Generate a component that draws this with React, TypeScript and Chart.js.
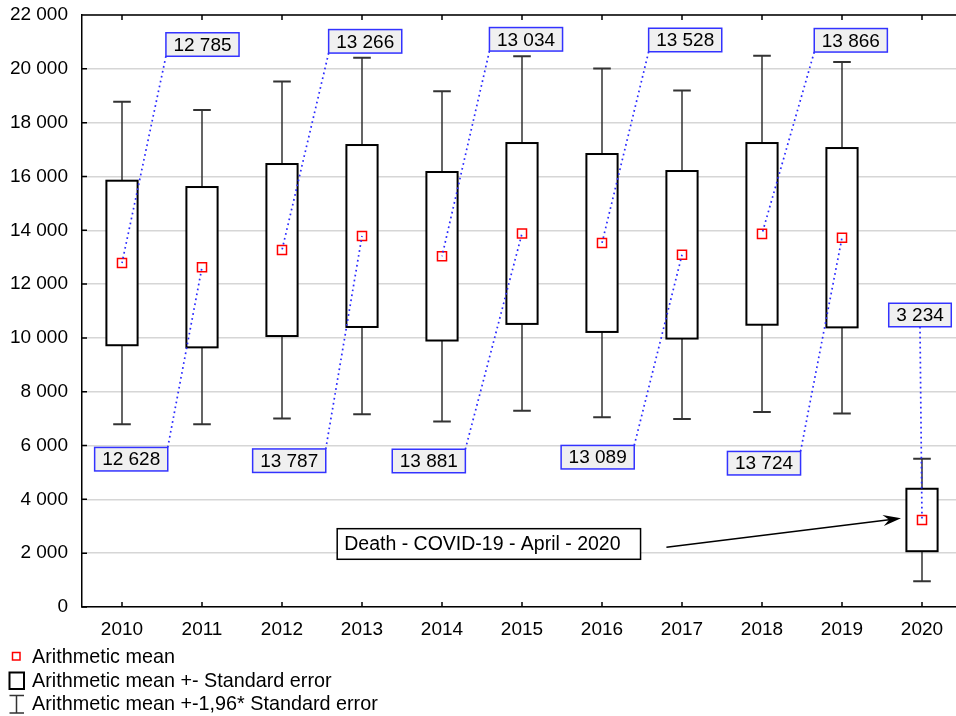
import React, { useEffect, useRef } from 'react';
import { Chart, registerables } from 'chart.js';

Chart.register(...registerables);

// ---------- data ----------
const years = [2010, 2011, 2012, 2013, 2014, 2015, 2016, 2017, 2018, 2019, 2020];
const means = [12785, 12628, 13266, 13787, 13034, 13881, 13528, 13089, 13866, 13724, 3234];
const stdErrors = [3057, 2979, 3196, 3381, 3131, 3361, 3306, 3113, 3376, 3332, 1160];
const whiskerFactor = 1.96;
const yTickValues = [0, 2000, 4000, 6000, 8000, 10000, 12000, 14000, 16000, 18000, 20000, 22000];
const legendLabels = [
  'Arithmetic mean',
  'Arithmetic mean +- Standard error',
  'Arithmetic mean +-1,96* Standard error',
];
const annotationText = 'Death - COVID-19 - April - 2020';

// ---------- layout (data coordinates of the callouts) ----------
const labelCenterX = [2011.006, 2010.115, 2013.04, 2012.09, 2015.05, 2013.835, 2017.04, 2015.946, 2019.11, 2018.025, 2019.975];
const labelCenterY = [20903, 5493, 21022, 5437, 21097, 5426, 21071, 5567, 21060, 5344, 10851];
const annotationBox = { left: 2012.69, top: 2910, bottom: 1773 };
const arrowFrom = { x: 2016.805, y: 2219 };
const arrowTo = { x: 2019.7375, y: 3296 };

const FONT = 'Arial, "Liberation Sans", sans-serif';
const X_MIN = 2009.5;
const X_MAX = 2020.425;
const BOX_HALF = 0.195;
const CAP_HALF = 0.11;

const fmt = (v: number) => Math.round(v).toString().replace(/\B(?=(\d{3})+(?!\d))/g, ' ');

const drawPlugin = {
  id: 'statBoxes',
  beforeDatasetsDraw(chart: any) {
    const { ctx } = chart;
    const x = chart.scales.x;
    const y = chart.scales.y;
    ctx.save();
    years.forEach((yr, i) => {
      const m = means[i];
      const se = stdErrors[i];
      const cx = x.getPixelForValue(yr);
      const wTop = y.getPixelForValue(m + whiskerFactor * se);
      const wBot = y.getPixelForValue(m - whiskerFactor * se);
      const bTop = y.getPixelForValue(m + se);
      const bBot = y.getPixelForValue(m - se);
      const bl = x.getPixelForValue(yr - BOX_HALF);
      const br = x.getPixelForValue(yr + BOX_HALF);
      const cl = x.getPixelForValue(yr - CAP_HALF);
      const cr = x.getPixelForValue(yr + CAP_HALF);
      ctx.strokeStyle = '#333';
      ctx.lineWidth = 1.5;
      ctx.beginPath();
      ctx.moveTo(cx, wTop); ctx.lineTo(cx, bTop);
      ctx.moveTo(cx, bBot); ctx.lineTo(cx, wBot);
      ctx.stroke();
      ctx.lineWidth = 2;
      ctx.beginPath();
      ctx.moveTo(cl, wTop); ctx.lineTo(cr, wTop);
      ctx.moveTo(cl, wBot); ctx.lineTo(cr, wBot);
      ctx.stroke();
      ctx.fillStyle = '#fff';
      ctx.fillRect(bl, bTop, br - bl, bBot - bTop);
      ctx.strokeStyle = '#000';
      ctx.lineWidth = 2;
      ctx.strokeRect(bl, bTop, br - bl, bBot - bTop);
    });
    ctx.restore();
  },
  afterDatasetsDraw(chart: any) {
    const { ctx } = chart;
    const x = chart.scales.x;
    const y = chart.scales.y;
    ctx.save();
    ctx.font = `19px ${FONT}`;
    // mean labels with dotted leader lines
    years.forEach((yr, i) => {
      const txt = fmt(means[i]);
      const tw = ctx.measureText(txt).width;
      const w = tw + 15;
      const h = 23.5;
      const lx = x.getPixelForValue(labelCenterX[i]);
      const ly = y.getPixelForValue(labelCenterY[i]);
      const mx = x.getPixelForValue(yr);
      const my = y.getPixelForValue(means[i]);
      let ax = lx;
      if (mx < lx - w / 2) ax = lx - w / 2;
      else if (mx > lx + w / 2) ax = lx + w / 2;
      const ay = my > ly ? ly + h / 2 : ly - h / 2;
      ctx.strokeStyle = '#2a2aff';
      ctx.lineWidth = 1.7;
      ctx.setLineDash([1.7, 3.3]);
      ctx.beginPath();
      ctx.moveTo(ax, ay);
      ctx.lineTo(mx, my);
      ctx.stroke();
      ctx.setLineDash([]);
      ctx.fillStyle = '#f0f0f0';
      ctx.fillRect(lx - w / 2, ly - h / 2, w, h);
      ctx.strokeStyle = '#3333ff';
      ctx.lineWidth = 1.5;
      ctx.strokeRect(lx - w / 2, ly - h / 2, w, h);
      ctx.fillStyle = '#000';
      ctx.textAlign = 'center';
      ctx.textBaseline = 'middle';
      ctx.fillText(txt, lx, ly + 1);
    });

    // annotation
    ctx.font = `19.5px ${FONT}`;
    const tw = ctx.measureText(annotationText).width;
    const bx = x.getPixelForValue(annotationBox.left);
    const bt = y.getPixelForValue(annotationBox.top);
    const bb = y.getPixelForValue(annotationBox.bottom);
    const bw = tw + 27;
    ctx.fillStyle = '#fff';
    ctx.fillRect(bx, bt, bw, bb - bt);
    ctx.strokeStyle = '#000';
    ctx.lineWidth = 1.5;
    ctx.strokeRect(bx, bt, bw, bb - bt);
    ctx.fillStyle = '#000';
    ctx.textAlign = 'left';
    ctx.textBaseline = 'middle';
    ctx.fillText(annotationText, bx + 7, (bt + bb) / 2 + 1);

    const x0 = x.getPixelForValue(arrowFrom.x);
    const y0 = y.getPixelForValue(arrowFrom.y);
    const x1 = x.getPixelForValue(arrowTo.x);
    const y1 = y.getPixelForValue(arrowTo.y);
    const ang = Math.atan2(y1 - y0, x1 - x0);
    const L = 18;
    const HW = 5.5;
    const ux = Math.cos(ang), uy = Math.sin(ang);
    const px = -uy, py = ux;
    ctx.lineWidth = 1.5;
    ctx.beginPath();
    ctx.moveTo(x0, y0);
    ctx.lineTo(x1 - ux * 12, y1 - uy * 12);
    ctx.stroke();
    ctx.beginPath();
    ctx.moveTo(x1, y1);
    ctx.lineTo(x1 - ux * L + px * HW, y1 - uy * L + py * HW);
    ctx.lineTo(x1 - ux * 12, y1 - uy * 12);
    ctx.lineTo(x1 - ux * L - px * HW, y1 - uy * L - py * HW);
    ctx.closePath();
    ctx.fill();
    ctx.restore();
  },
  afterDraw(chart: any) {
    const { ctx, chartArea } = chart;
    const x = chart.scales.x;
    const y = chart.scales.y;
    ctx.save();
    ctx.strokeStyle = '#000';
    ctx.lineWidth = 1.5;
    ctx.beginPath();
    ctx.moveTo(chartArea.left, chartArea.top);
    ctx.lineTo(chartArea.right, chartArea.top);
    // tick marks inside
    years.forEach((yr) => {
      const px = x.getPixelForValue(yr);
      ctx.moveTo(px, chartArea.top);
      ctx.lineTo(px, chartArea.top + 5);
      ctx.moveTo(px, chartArea.bottom);
      ctx.lineTo(px, chartArea.bottom - 5);
    });
    yTickValues.forEach((v) => {
      const py = y.getPixelForValue(v);
      ctx.moveTo(chartArea.left, py);
      ctx.lineTo(chartArea.left + 5, py);
    });
    ctx.stroke();

    // legend
    const rows = [657, 680.5, 704];
    ctx.font = `19.8px ${FONT}`;
    ctx.fillStyle = '#000';
    ctx.textAlign = 'left';
    ctx.textBaseline = 'middle';
    legendLabels.forEach((t, i) => ctx.fillText(t, 32, rows[i] + 1));
    ctx.fillStyle = '#fff';
    ctx.strokeStyle = '#ff0000';
    ctx.lineWidth = 1.5;
    ctx.fillRect(12.5, 652.5, 7.5, 7.5);
    ctx.strokeRect(12.5, 652.5, 7.5, 7.5);
    ctx.strokeStyle = '#000';
    ctx.lineWidth = 2;
    ctx.strokeRect(9.5, 672.5, 14.5, 16.5);
    ctx.strokeStyle = '#333';
    ctx.lineWidth = 1.5;
    ctx.beginPath();
    ctx.moveTo(16.5, 695.5); ctx.lineTo(16.5, 713);
    ctx.moveTo(9.5, 695.5); ctx.lineTo(24, 695.5);
    ctx.moveTo(9.5, 713); ctx.lineTo(24, 713);
    ctx.stroke();
    ctx.restore();
  },
};

const zeroPadding = (s: any) => {
  s.paddingTop = 0;
  s.paddingBottom = 0;
  s.paddingLeft = 0;
  s.paddingRight = 0;
};

export default function App() {
  const canvasRef = useRef<HTMLCanvasElement | null>(null);

  useEffect(() => {
    document.body.style.margin = '0';
    const canvas = canvasRef.current;
    if (!canvas) return;
    const chart = new Chart(canvas, {
      type: 'scatter',
      data: {
        datasets: [
          {
            label: 'Arithmetic mean',
            data: years.map((yr, i) => ({ x: yr, y: means[i] })),
            pointStyle: 'rect',
            pointRadius: 6.4,
            pointHoverRadius: 6.4,
            borderColor: '#ff0000',
            backgroundColor: '#ffffff',
            borderWidth: 1.5,
            showLine: false,
          },
        ],
      },
      options: {
        responsive: false,
        animation: false,
        devicePixelRatio: 1,
        events: [],
        layout: { autoPadding: false, padding: { top: 15, left: 0, right: 0, bottom: 0 } },
        plugins: {
          legend: { display: false },
          tooltip: { enabled: false },
        },
        scales: {
          x: {
            type: 'linear',
            position: 'bottom',
            min: X_MIN,
            max: X_MAX,
            afterBuildTicks: (s: any) => {
              s.ticks = years.map((v) => ({ value: v }));
            },
            afterFit: (s: any) => {
              s.height = 109;
              zeroPadding(s);
            },
            ticks: {
              autoSkip: false,
              maxRotation: 0,
              padding: 11,
              color: '#000',
              font: { family: FONT, size: 19 },
              callback: (v: any) => String(v),
            },
            grid: { display: false, drawTicks: false },
            border: { display: true, color: '#000', width: 1.5 },
          },
          y: {
            type: 'linear',
            min: 0,
            max: 22000,
            afterBuildTicks: (s: any) => {
              s.ticks = yTickValues.map((v) => ({ value: v }));
            },
            afterFit: (s: any) => {
              s.width = 82;
              zeroPadding(s);
            },
            ticks: {
              padding: 14,
              color: '#000',
              font: { family: FONT, size: 19 },
              callback: (v: any) => fmt(Number(v)),
            },
            grid: { color: '#d6d6d6', lineWidth: 1.5, drawTicks: false },
            border: { display: true, color: '#000', width: 1.5 },
          },
        },
      },
      plugins: [drawPlugin],
    } as any);
    return () => chart.destroy();
  }, []);

  return (
    <div style={{ width: 956, height: 716, position: 'relative', background: '#fff' }}>
      <canvas ref={canvasRef} width={956} height={716} style={{ display: 'block' }} />
    </div>
  );
}
